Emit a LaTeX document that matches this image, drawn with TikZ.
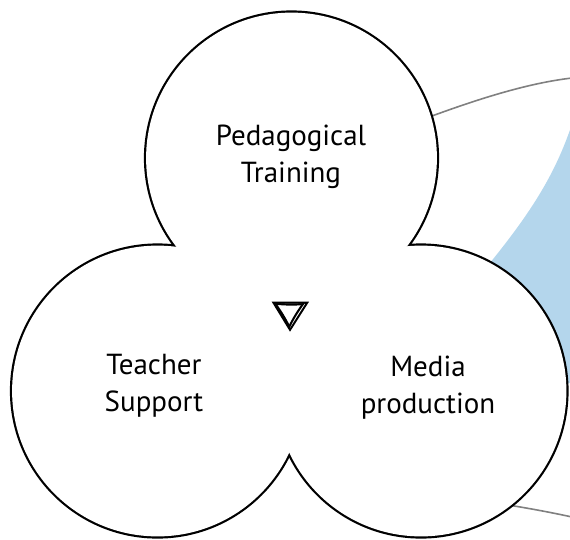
\documentclass[tikz,border=0pt]{standalone}
\usepackage{fontspec}
\setmainfont{PT Sans}
\usetikzlibrary{positioning}

\definecolor{skyblue}{RGB}{180,214,236}
\definecolor{ringgray}{RGB}{128,128,128}

\begin{document}
\begin{tikzpicture}[x=1pt,y=-1pt]
% Styles
\tikzstyle{lobetext} = [align=center, font=\fontsize{29}{37}\selectfont, text=black, inner sep=0pt]
\tikzstyle{rim} = [draw=black, line width=4.4pt]
\tikzstyle{ring} = [draw=ringgray, line width=1.6pt]

\useasboundingbox (0,0) rectangle (570,539);

\coordinate (cped) at (291.5,158);
\coordinate (cteach) at (157.5,391);
\coordinate (cmedia) at (421,391);

% background
\fill[skyblue] (572,124) .. controls (555,175) and (530,215) .. (480,275) -- (470,420) -- (572,382) -- cycle;
\draw[ring] (400,128) .. controls (460,105) and (520,84) .. (572,78);
\draw[ring] (470,500) .. controls (500,503) and (540,510) .. (572,517);

% lobes
\draw[rim] (cped) circle[radius=145.4pt];
\draw[rim] (cteach) circle[radius=145.4pt];
\draw[rim] (cmedia) circle[radius=145.4pt];
\fill[white] (cped) circle[radius=145.4pt];
\fill[white] (cteach) circle[radius=145.4pt];
\fill[white] (cmedia) circle[radius=145.4pt];

\node[lobetext] (ped) at (291,157) {Pedagogical\\Training};
\node[lobetext] (teach) at (154,386) {Teacher\\Support};
\node[lobetext] (media) at (428,388) {Media\\production};

% marker
\fill[black, even odd rule] (271.7,301.7) -- (309,301.7) -- (290,331.7) -- cycle
  (275.3,303.7) -- (305.4,303.7) -- (290.1,327.9) -- cycle;

\end{tikzpicture}
\end{document}
